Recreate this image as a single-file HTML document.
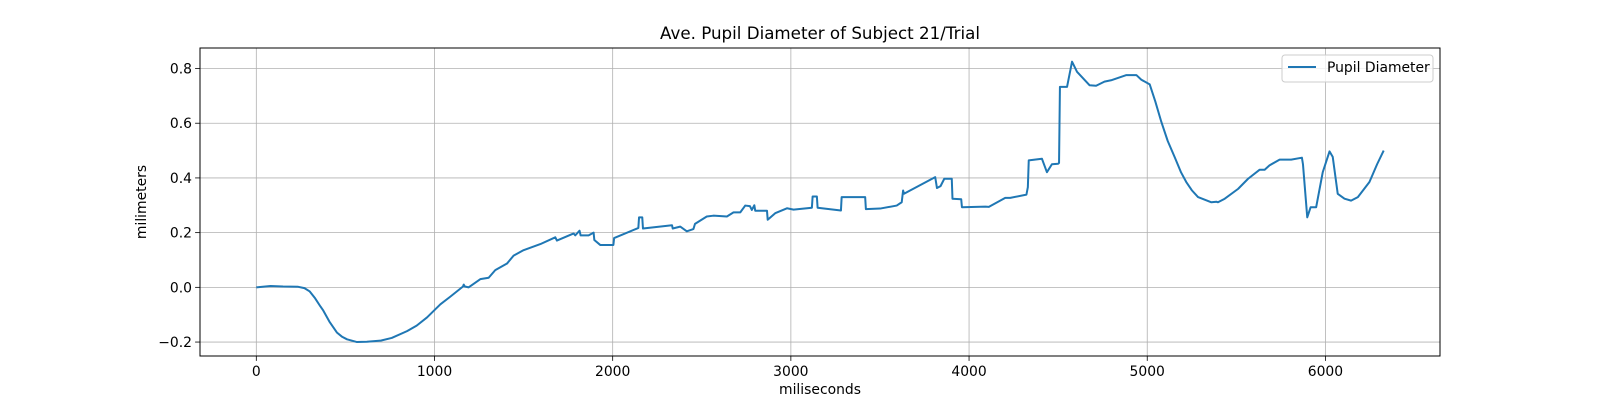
<!DOCTYPE html>
<html><head><meta charset="utf-8"><style>
body{margin:0;background:#fff}
svg{display:block;font-family:"DejaVu Sans","Liberation Sans",sans-serif}
</style></head><body>
<svg id="chart" width="1600" height="400">
<rect width="1600" height="400" fill="#fff"/>
<text x="820" y="39" text-anchor="middle" font-size="16.7" fill="#000">Ave. Pupil Diameter of Subject 21/Trial</text>
<text x="820" y="394" text-anchor="middle" font-size="13.9" fill="#000">miliseconds</text>
<text transform="translate(146,202) rotate(-90)" text-anchor="middle" font-size="13.9" fill="#000">milimeters</text>
<g id="grid"></g><g id="ticks"></g><g id="series"></g>
<rect x="200" y="48" width="1240" height="308" fill="none" stroke="#000" stroke-width="1"/>
<g>
<rect x="1282" y="55" width="151" height="27" rx="3" fill="#fff" fill-opacity="0.8" stroke="#ccc"/>
<line x1="1288" y1="67" x2="1316" y2="67" stroke="#1f77b4" stroke-width="2"/>
<text x="1327" y="72" font-size="13.9" fill="#000">Pupil Diameter</text>
</g>
</svg>
<script>
const xTicks=[0,1000,2000,3000,4000,5000,6000];
const yTicks=[-0.2,0.0,0.2,0.4,0.6,0.8];
const timeMs=[0,80,150,235,270,300,330,360,376,410,452,480,509,565,620,697,760,846,900,958,1033,1089,1160,1164,1170,1192,1257,1304,1341,1407,1444,1500,1594,1678,1687,1781,1790,1814,1820,1865,1893,1897,1930,2004,2008,2144,2148,2166,2170,2333,2337,2379,2416,2453,2462,2528,2565,2641,2678,2716,2744,2770,2781,2795,2800,2866,2870,2912,2978,3015,3118,3122,3146,3150,3281,3285,3417,3421,3501,3594,3622,3630,3635,3669,3810,3820,3840,3861,3903,3907,3956,3960,4092,4111,4203,4231,4322,4330,4335,4409,4437,4465,4500,4505,4510,4550,4578,4606,4676,4713,4760,4797,4883,4939,4967,5014,5045,5079,5115,5154,5190,5219,5250,5285,5360,5388,5397,5435,5510,5566,5631,5659,5686,5743,5808,5868,5874,5898,5917,5948,5985,6023,6041,6069,6107,6144,6182,6247,6290,6327];
const pupilMm=[0,0.005,0.003,0.002,-0.003,-0.015,-0.04,-0.07,-0.085,-0.125,-0.165,-0.18,-0.19,-0.2,-0.199,-0.195,-0.185,-0.16,-0.14,-0.11,-0.062,-0.034,0.003,0.01,0.003,0.0,0.03,0.035,0.063,0.087,0.116,0.136,0.158,0.183,0.171,0.197,0.19,0.207,0.19,0.19,0.2,0.173,0.155,0.155,0.18,0.217,0.256,0.256,0.215,0.227,0.215,0.222,0.205,0.213,0.232,0.259,0.262,0.259,0.274,0.274,0.299,0.297,0.283,0.3,0.28,0.28,0.247,0.271,0.289,0.284,0.291,0.332,0.332,0.291,0.281,0.33,0.33,0.286,0.288,0.299,0.311,0.354,0.342,0.354,0.403,0.363,0.37,0.397,0.397,0.324,0.322,0.293,0.295,0.294,0.327,0.327,0.339,0.366,0.464,0.47,0.421,0.45,0.452,0.455,0.733,0.733,0.825,0.788,0.739,0.737,0.752,0.757,0.776,0.776,0.759,0.742,0.68,0.605,0.535,0.476,0.42,0.385,0.355,0.33,0.311,0.313,0.311,0.324,0.36,0.397,0.43,0.43,0.446,0.467,0.467,0.474,0.45,0.256,0.293,0.293,0.421,0.497,0.477,0.342,0.324,0.317,0.33,0.385,0.45,0.5];
const X0=200,X1=1440,Y0=48,Y1=356,xmin=-316,xmax=6643,ymin=-0.251,ymax=0.875;
function xs(v){return X0+(v-xmin)/(xmax-xmin)*(X1-X0);}
function ys(v){return Y1-(v-ymin)/(ymax-ymin)*(Y1-Y0);}
const NS='http://www.w3.org/2000/svg';
const grid=document.getElementById('grid'),ticks=document.getElementById('ticks'),series=document.getElementById('series');
function mk(t,a){const e=document.createElementNS(NS,t);for(const k in a)e.setAttribute(k,a[k]);return e;}
xTicks.forEach(v=>{const x=xs(v);
 const g=mk('line',{x1:x,x2:x,y1:Y0,y2:Y1,stroke:'#b0b0b0','stroke-width':0.8});
 
 grid.appendChild(g);
 const t=mk('line',{x1:x,x2:x,y1:Y1,y2:Y1+4.9,stroke:'#000','stroke-width':0.8});
 
 ticks.appendChild(t);
 const l=mk('text',{x:x,y:Y1+20,'text-anchor':'middle','font-size':13.9});l.textContent=String(v);
 
 ticks.appendChild(l);});
yTicks.forEach(v=>{const y=ys(v);
 const g=mk('line',{x1:X0,x2:X1,y1:y,y2:y,stroke:'#b0b0b0','stroke-width':0.8});
 
 grid.appendChild(g);
 const t=mk('line',{x1:X0-4.9,x2:X0,y1:y,y2:y,stroke:'#000','stroke-width':0.8});
 
 ticks.appendChild(t);
 const l=mk('text',{x:X0-8,y:y+5,'text-anchor':'end','font-size':13.9});l.textContent=(v<0?'\u2212':'')+Math.abs(v).toFixed(1);
 
 ticks.appendChild(l);});
const d=timeMs.map((t,i)=>(i?'L':'M')+xs(t).toFixed(2)+' '+ys(pupilMm[i]).toFixed(2)).join(' ');
const p=mk('path',{d:d,fill:'none',stroke:'#1f77b4','stroke-width':2,'stroke-linejoin':'round'});


series.appendChild(p);
</script>
</body></html>
